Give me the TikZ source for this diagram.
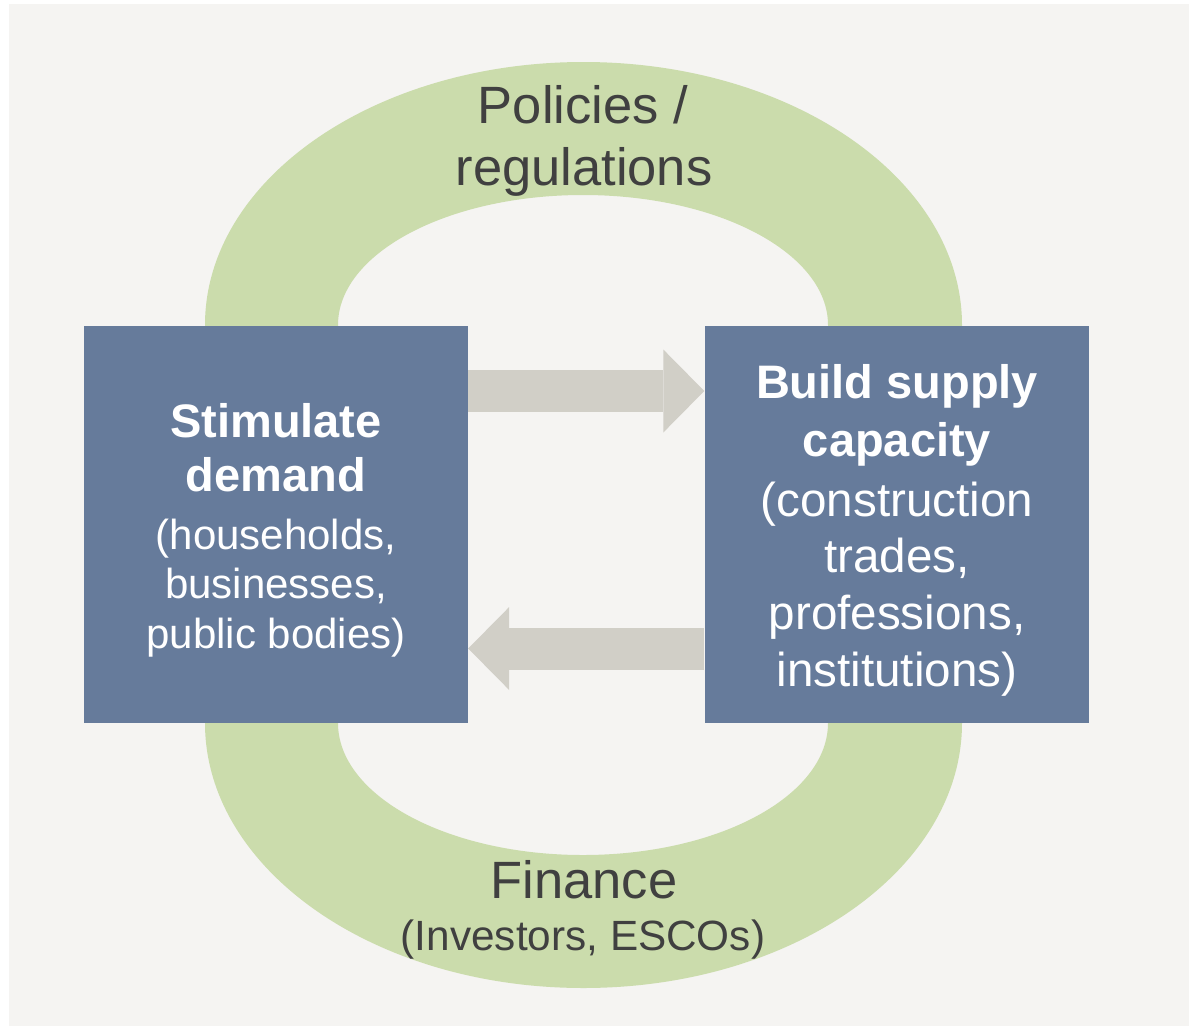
\documentclass[tikz,border=0pt]{standalone}
\usepackage{fontspec}
\setmainfont{Liberation Sans}
\usetikzlibrary{arrows.meta}
\definecolor{bgpanel}{HTML}{F5F4F2}
\definecolor{ringgreen}{HTML}{CBDCAC}
\definecolor{boxblue}{HTML}{667B9B}
\definecolor{arrowgray}{HTML}{D1CFC7}
\definecolor{txtdark}{HTML}{404040}
\begin{document}
\begin{tikzpicture}[x=1pt,y=-1pt,
  box/.style={fill=boxblue, draw=none, minimum width=384pt, minimum height=397pt, inner sep=0pt},
  ringtxt/.style={anchor=base, inner sep=0pt, text=txtdark, font=\fontsize{52.5}{63}\selectfont},
  ringsub/.style={anchor=base, inner sep=0pt, text=txtdark, font=\fontsize{42.3}{50}\selectfont},
  boxtitle/.style={anchor=base, inner sep=0pt, text=white, font=\bfseries\fontsize{47}{56}\selectfont},
  leftsub/.style={anchor=base, inner sep=0pt, text=white, font=\fontsize{42}{50}\selectfont},
  rightsub/.style={anchor=base, inner sep=0pt, text=white, font=\fontsize{47.6}{57}\selectfont},
  blockarr/.style={draw=arrowgray, line width=42pt,
    -{Triangle[length=41pt,width=83pt,line width=0pt]}}]
\useasboundingbox (0,0) rectangle (1189,1026);
\fill[white] (0,0) rectangle (1189,1026);
\fill[bgpanel] (9,4) rectangle (1189,1026);
% ring
\fill[ringgreen, even odd rule]
  (205,325) arc[start angle=180,end angle=0,x radius=378.5pt,y radius=263pt]
  -- (962,723) arc[start angle=0,end angle=-180,x radius=378.5pt,y radius=265pt] -- cycle
  (338,325) arc[start angle=180,end angle=0,x radius=245pt,y radius=130pt]
  -- (828,723) arc[start angle=0,end angle=-180,x radius=245pt,y radius=132pt] -- cycle;
% boxes
\node[box] (L) at (276,524.5) {};
\node[box] (R) at (896.5,524.5) {};
% arrows
\draw[blockarr] ([yshift=133.5pt]L.east) -- ([yshift=133.5pt]R.west);
\draw[blockarr] ([yshift=-124pt]R.west) -- ([yshift=-124pt]L.east);
% ring labels
\node[ringtxt] (pol1) at (583,123) {Policies /};
\node[ringtxt] (pol2) at (584,185) {regulations};
\node[ringtxt] (fin1) at (584,898) {Finance};
\node[ringsub] (fin2) at (583,950) {(Investors, ESCOs)};
% left box text
\node[boxtitle] (l1) at (276,437) {Stimulate};
\node[boxtitle] (l2) at (276,491) {demand};
\node[leftsub] (l3) at (276,549) {(households,};
\node[leftsub] (l4) at (276,598) {businesses,};
\node[leftsub] (l5) at (276,648) {public bodies)};
% right box text
\node[boxtitle] (r1) at (897,398) {Build supply};
\node[boxtitle] (r2) at (897,456) {capacity};
\node[rightsub] (r3) at (897,516) {(construction};
\node[rightsub] (r4) at (897,572) {trades,};
\node[rightsub] (r5) at (897,629) {professions,};
\node[rightsub] (r6) at (897,686) {institutions)};
\end{tikzpicture}
\end{document}
